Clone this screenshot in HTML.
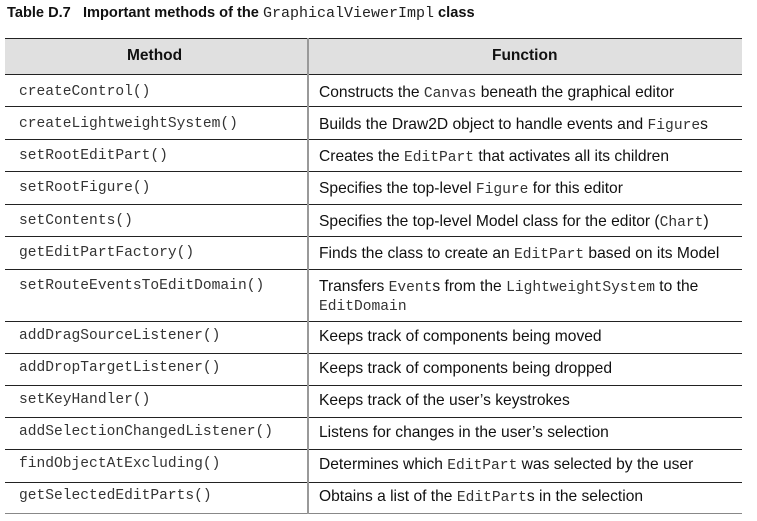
<!DOCTYPE html>
<html><head><meta charset="utf-8"><style>
body{margin:0;width:757px;height:521px;background:#fff;position:relative;overflow:hidden;font-family:"Liberation Sans",sans-serif;color:#111}
.t{position:absolute;left:7px;top:5px;font-weight:bold;font-size:14.6px;white-space:nowrap}
.m{font-family:"Liberation Mono",monospace;font-weight:normal;font-size:15px;color:#222}
.hl{position:absolute;left:5px;width:737px;height:1px;background:#222}
.hd{position:absolute;left:5px;top:38px;width:737px;height:36px;background:#e0e0e0;border-top:1px solid #222}
.v{position:absolute;left:307px;top:38px;width:2px;height:476px;background:#999}
.c{position:absolute;white-space:nowrap;font-size:15.6px;line-height:19px}
.l{left:19px;font-family:"Liberation Mono",monospace;font-size:14.6px;color:#333}
.r{left:319px}
.r code{font-family:"Liberation Mono",monospace;font-size:14.6px;color:#333}
.h{position:absolute;top:47px;font-weight:bold;font-size:15.5px}
</style></head><body>
<div class="t">Table D.7&nbsp;&nbsp;&nbsp;Important methods of the <span class="m">GraphicalViewerImpl</span> class</div>
<div class="hd"></div>
<div class="h" style="left:127px">Method</div>
<div class="h" style="left:492px">Function</div>
<div class="hl" style="top:74px"></div>
<div class="hl" style="top:106px"></div>
<div class="hl" style="top:139px"></div>
<div class="hl" style="top:171px"></div>
<div class="hl" style="top:204px"></div>
<div class="hl" style="top:236px"></div>
<div class="hl" style="top:269px"></div>
<div class="hl" style="top:321px"></div>
<div class="hl" style="top:353px"></div>
<div class="hl" style="top:385px"></div>
<div class="hl" style="top:417px"></div>
<div class="hl" style="top:449px"></div>
<div class="hl" style="top:482px"></div>
<div class="hl" style="top:513px;background:#888"></div>
<div class="v"></div>

<div class="c l" style="top:83px">createControl()</div>
<div class="c r" style="top:83px">Constructs the <code>Canvas</code> beneath the graphical editor</div>
<div class="c l" style="top:115px">createLightweightSystem()</div>
<div class="c r" style="top:115px">Builds the Draw2D object to handle events and <code>Figure</code>s</div>
<div class="c l" style="top:147px">setRootEditPart()</div>
<div class="c r" style="top:147px">Creates the <code>EditPart</code> that activates all its children</div>
<div class="c l" style="top:179px">setRootFigure()</div>
<div class="c r" style="top:179px">Specifies the top-level <code>Figure</code> for this editor</div>
<div class="c l" style="top:212px">setContents()</div>
<div class="c r" style="top:212px">Specifies the top-level Model class for the editor (<code>Chart</code>)</div>
<div class="c l" style="top:244px">getEditPartFactory()</div>
<div class="c r" style="top:244px">Finds the class to create an <code>EditPart</code> based on its Model</div>
<div class="c l" style="top:277px">setRouteEventsToEditDomain()</div>
<div class="c r" style="top:277px">Transfers <code>Event</code>s from the <code>LightweightSystem</code> to the</div>
<div class="c r" style="top:296px"><code>EditDomain</code></div>
<div class="c l" style="top:327px">addDragSourceListener()</div>
<div class="c r" style="top:327px">Keeps track of components being moved</div>
<div class="c l" style="top:359px">addDropTargetListener()</div>
<div class="c r" style="top:359px">Keeps track of components being dropped</div>
<div class="c l" style="top:391px">setKeyHandler()</div>
<div class="c r" style="top:391px">Keeps track of the user’s keystrokes</div>
<div class="c l" style="top:423px">addSelectionChangedListener()</div>
<div class="c r" style="top:423px">Listens for changes in the user’s selection</div>
<div class="c l" style="top:455px">findObjectAtExcluding()</div>
<div class="c r" style="top:455px">Determines which <code>EditPart</code> was selected by the user</div>
<div class="c l" style="top:487px">getSelectedEditParts()</div>
<div class="c r" style="top:487px">Obtains a list of the <code>EditPart</code>s in the selection</div>
</body></html>
